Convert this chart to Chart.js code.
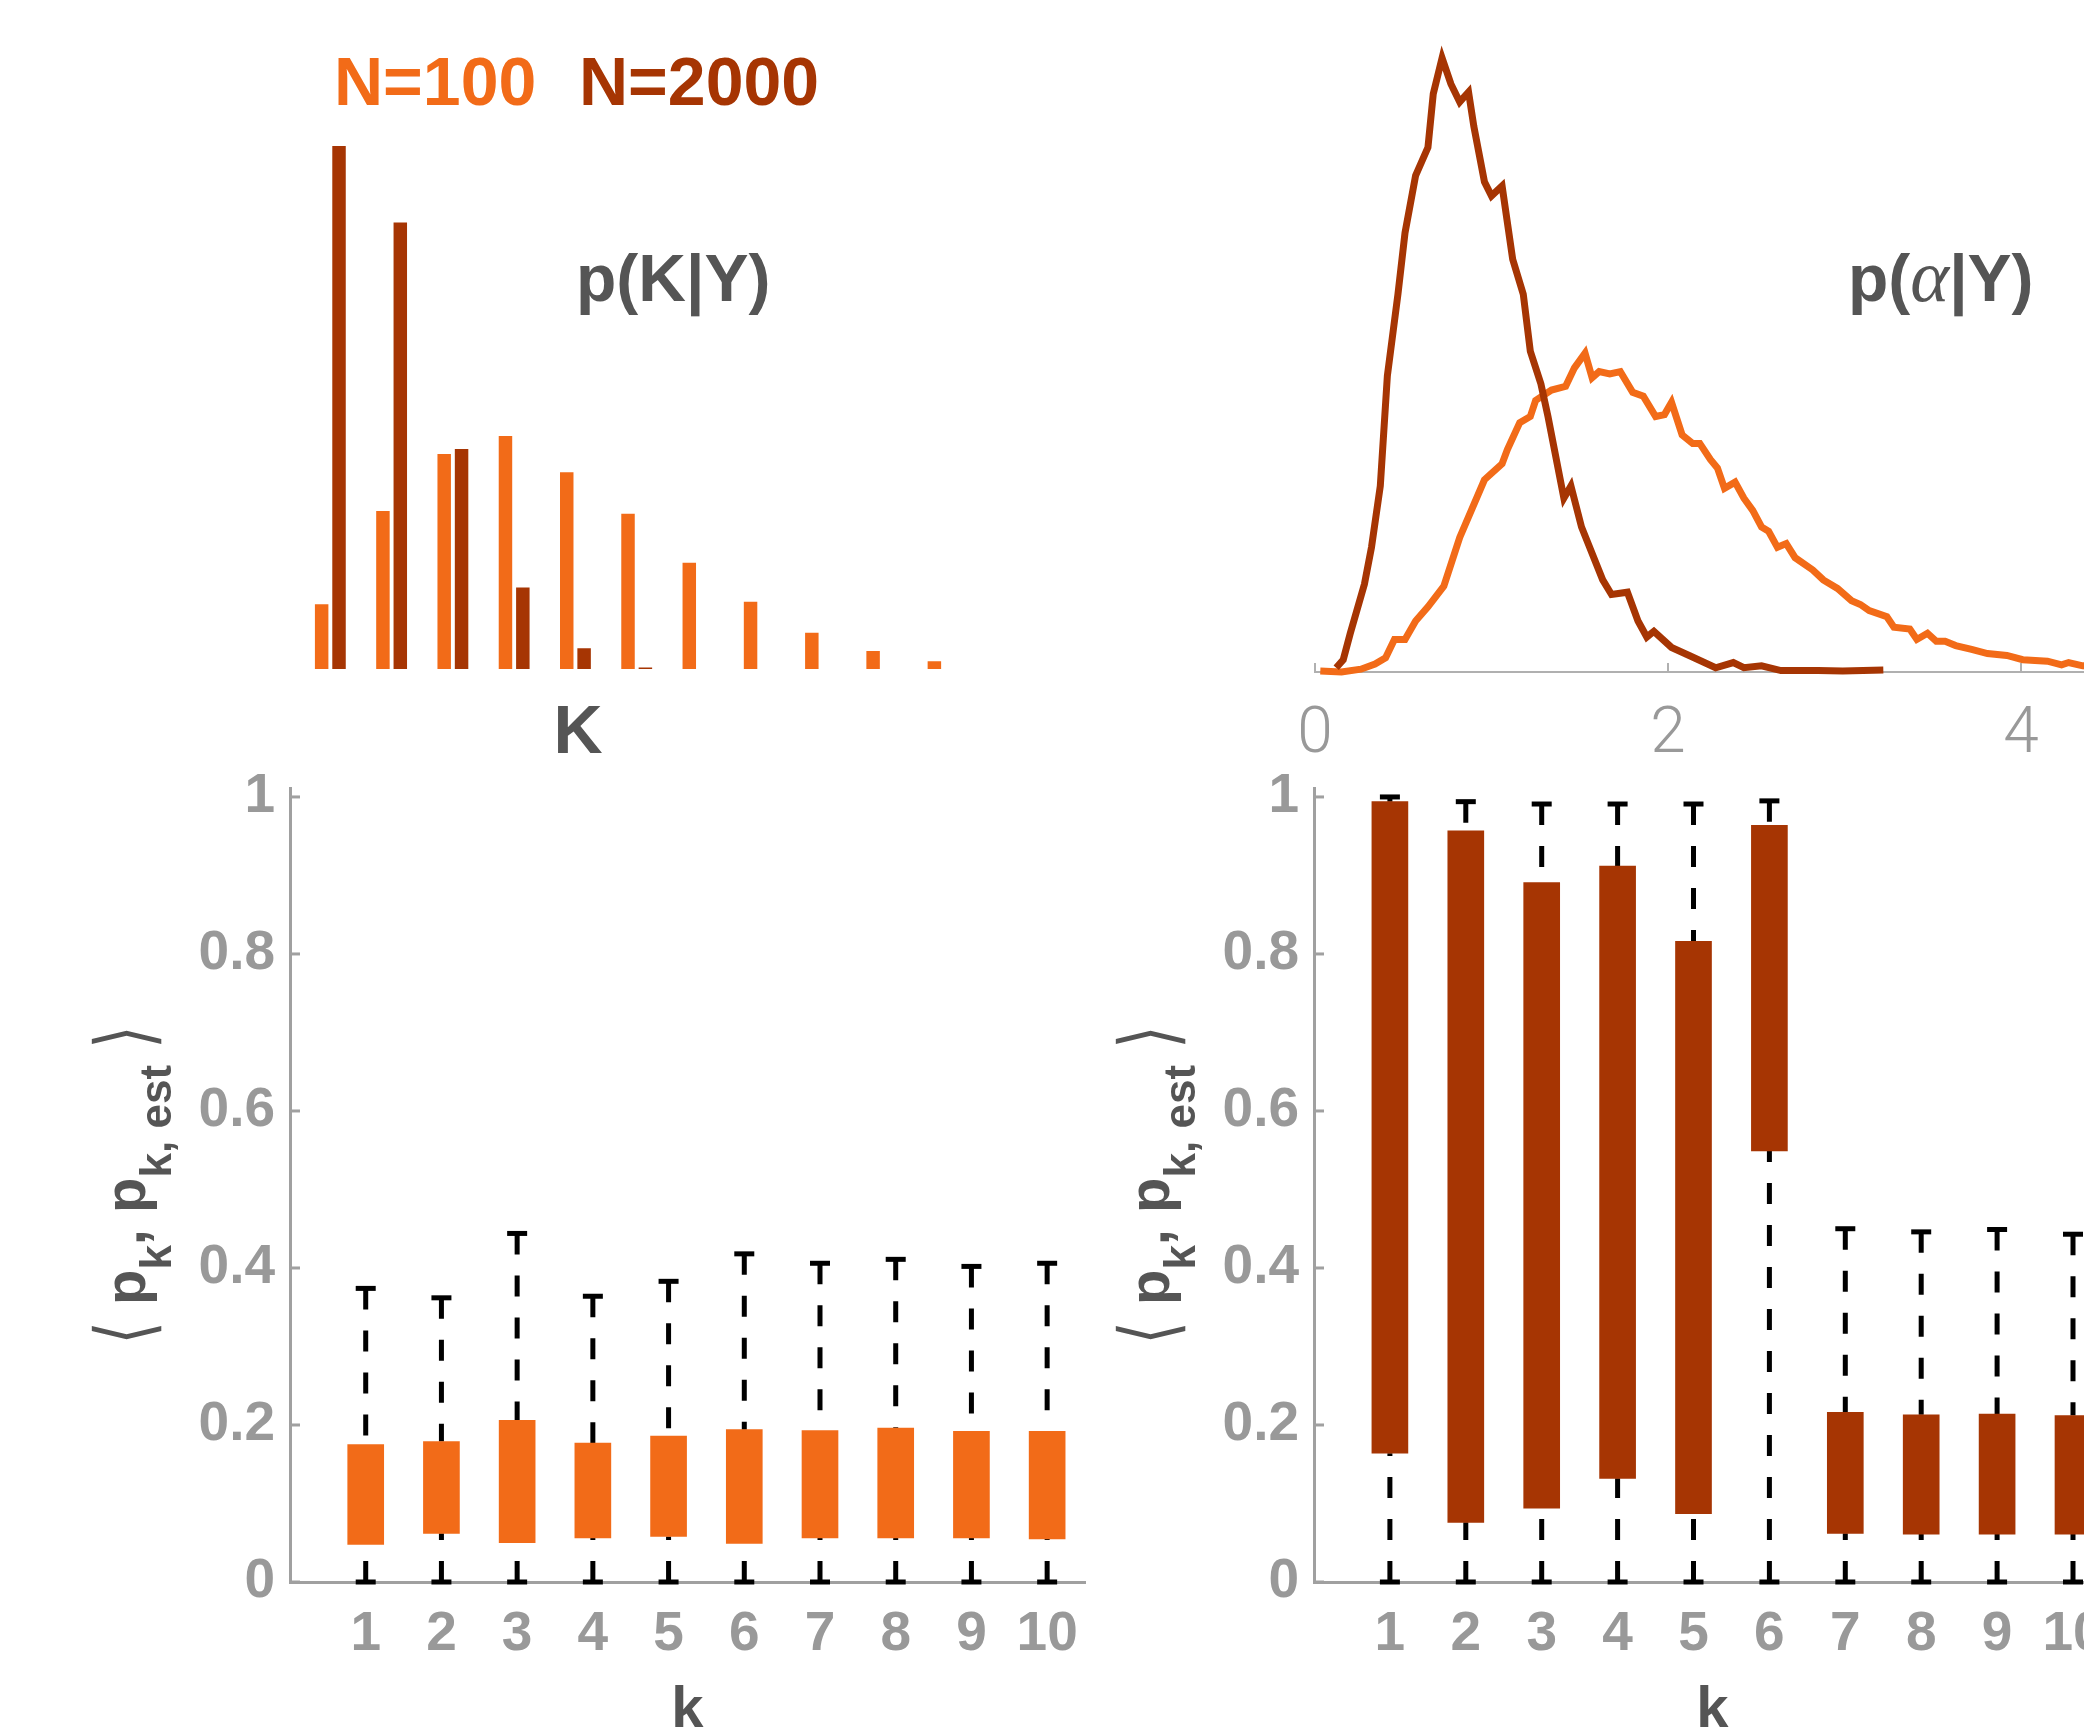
<!DOCTYPE html>
<html>
<head>
<meta charset="utf-8">
<script src="https://cdn.jsdelivr.net/npm/chart.js@4.4.1/dist/chart.umd.min.js"></script>
<style>
html,body{margin:0;padding:0;background:#fff;overflow:hidden;width:2084px;height:1729px;position:relative}
canvas{position:absolute}
</style>
</head>
<body>
<canvas id="c1" width="1040" height="780" style="left:0;top:0"></canvas>
<canvas id="c2" width="1100" height="790" style="left:1100px;top:0"></canvas>
<canvas id="c3" width="1100" height="989" style="left:0;top:740px"></canvas>
<canvas id="c4" width="1180" height="989" style="left:1020px;top:740px"></canvas>
<script>
// ---------------- DATA ----------------
// top-left: p(K|Y)
const K_CATEGORIES = ['1','2','3','4','5','6','7','8','9','10','11'];
const PK_N100  = [0.050,0.122,0.166,0.180,0.152,0.120,0.082,0.052,0.028,0.014,0.006];
const PK_N2000 = [0.404,0.345,0.170,0.063,0.016,0.0012,0,0,0,0,0];

// top-right: p(alpha|Y)
const ALPHA_X_N2000 = [0.12,0.16,0.20,0.28,0.32,0.37,0.41,0.47,0.51,0.57,0.64,0.67,0.72,0.77,0.82,0.87,0.90,0.96,1.00,1.06,1.12,1.18,1.22,1.28,1.32,1.41,1.45,1.51,1.63,1.68,1.77,1.83,1.88,1.92,2.02,2.12,2.27,2.37,2.43,2.53,2.64,2.85,2.99,3.22];
const ALPHA_Y_N2000 = [0.009,0.026,0.082,0.186,0.264,0.394,0.627,0.800,0.930,1.051,1.111,1.224,1.300,1.245,1.207,1.228,1.155,1.038,1.008,1.029,0.874,0.800,0.679,0.610,0.541,0.368,0.394,0.307,0.195,0.164,0.169,0.108,0.074,0.086,0.052,0.035,0.009,0.020,0.009,0.013,0.003,0.003,0.002,0.004];
const ALPHA_X_N100 = [0.03,0.15,0.26,0.34,0.40,0.45,0.51,0.57,0.64,0.73,0.82,0.89,0.96,1.06,1.09,1.16,1.22,1.25,1.34,1.42,1.47,1.53,1.57,1.61,1.67,1.73,1.80,1.86,1.93,1.98,2.02,2.08,2.14,2.18,2.24,2.28,2.32,2.38,2.43,2.48,2.53,2.57,2.62,2.67,2.72,2.82,2.88,2.96,3.04,3.09,3.14,3.24,3.28,3.37,3.41,3.47,3.52,3.57,3.63,3.72,3.81,3.92,4.01,4.15,4.23,4.27,4.35,4.45];
const ALPHA_Y_N100 = [0.002,0.000,0.006,0.017,0.030,0.069,0.069,0.108,0.138,0.182,0.285,0.346,0.407,0.441,0.471,0.528,0.541,0.575,0.597,0.605,0.644,0.675,0.623,0.636,0.631,0.636,0.592,0.584,0.541,0.545,0.571,0.502,0.484,0.484,0.450,0.432,0.389,0.402,0.368,0.342,0.307,0.298,0.264,0.272,0.242,0.216,0.195,0.177,0.151,0.143,0.130,0.117,0.095,0.091,0.069,0.082,0.065,0.065,0.056,0.048,0.039,0.035,0.026,0.023,0.015,0.020,0.013,0.011];
const ALPHA_TICKS = [0,2,4];

// bottom: box plots of <p_k, p_k,est>
const BOX_K = [1,2,3,4,5,6,7,8,9,10];
const N100_Q1  = [0.048,0.062,0.050,0.056,0.058,0.049,0.056,0.056,0.056,0.055];
const N100_Q3  = [0.175,0.179,0.206,0.177,0.186,0.194,0.193,0.196,0.192,0.192];
const N100_LO  = [0,0,0,0,0,0,0,0,0,0];
const N100_HI  = [0.374,0.362,0.444,0.364,0.383,0.418,0.406,0.411,0.402,0.406];
const N2000_Q1 = [0.164,0.076,0.094,0.132,0.087,0.549,0.062,0.061,0.061,0.061];
const N2000_Q3 = [0.994,0.957,0.891,0.912,0.816,0.964,0.216,0.213,0.214,0.212];
const N2000_LO = [0,0,0,0,0,0,0,0,0,0];
const N2000_HI = [1.000,0.994,0.991,0.991,0.991,0.995,0.450,0.446,0.449,0.443];
const P_TICKS = [0,0.2,0.4,0.6,0.8,1];

// ---------------- STYLE ----------------
const ORANGE = 'rgb(242,107,24)';
const DARK = 'rgb(166,53,3)';
const TXT = '#555555';
const TICKC = '#999999';
const AXC = '#a0a0a0';
const SANS = '"Liberation Sans", Arial, Helvetica, sans-serif';
Chart.defaults.font.family = SANS;
Chart.defaults.animation = false;

// run = [text, font, color, dy, yScale]
function drawRuns(ctx, runs, x, y) {
  let cx = x;
  for (const r of runs) {
    ctx.font = r[1]; ctx.fillStyle = r[2];
    if (r[4]) {
      ctx.save();
      ctx.translate(cx, y + (r[3] || 0));
      ctx.scale(1, r[4]);
      ctx.textBaseline = 'middle';
      ctx.fillText(r[0], 0, 0);
      ctx.restore();
    } else {
      ctx.fillText(r[0], cx, y + (r[3] || 0));
    }
    cx += ctx.measureText(r[0]).width;
  }
}
function runsWidth(ctx, runs) {
  let w = 0;
  for (const r of runs) { ctx.font = r[1]; w += ctx.measureText(r[0]).width; }
  return w;
}

// ---------------- TOP LEFT ----------------
new Chart(document.getElementById('c1'), {
  type: 'bar',
  data: {
    labels: K_CATEGORIES,
    datasets: [
      {label: 'N=100', data: PK_N100, backgroundColor: ORANGE, borderWidth: 0,
       categoryPercentage: 0.567, barPercentage: 0.776},
      {label: 'N=2000', data: PK_N2000, backgroundColor: DARK, borderWidth: 0,
       categoryPercentage: 0.567, barPercentage: 0.776}
    ]
  },
  options: {
    responsive: false, animation: false,
    layout: {padding: {left: 299.7, right: 66.3, top: 125.3, bottom: 111}},
    plugins: {legend: {display: false}, tooltip: {enabled: false}},
    scales: {
      x: {display: false},
      y: {display: false, min: 0, max: 0.42}
    }
  },
  plugins: [{
    id: 'txt1',
    afterDraw(chart) {
      const ctx = chart.ctx;
      ctx.save();
      ctx.textBaseline = 'alphabetic'; ctx.textAlign = 'left';
      ctx.font = 'bold 68px ' + SANS; ctx.fillStyle = ORANGE;
      ctx.fillText('N=100', 334, 105);
      ctx.fillStyle = DARK;
      ctx.fillText('N=2000', 579, 105);
      ctx.font = 'bold 66px ' + SANS; ctx.fillStyle = TXT;
      ctx.fillText('p(K|Y)', 576, 301);
      ctx.textAlign = 'center';
      ctx.font = 'bold 68px ' + SANS;
      ctx.fillText('K', 578, 753);
      ctx.restore();
    }
  }]
});

// ---------------- TOP RIGHT ----------------
new Chart(document.getElementById('c2'), {
  type: 'line',
  data: {
    datasets: [
      {label: 'N=2000', data: ALPHA_X_N2000.map((x, i) => ({x, y: ALPHA_Y_N2000[i]})),
       borderColor: DARK, borderWidth: 7, pointRadius: 0, tension: 0, fill: false, clip: false},
      {label: 'N=100', data: ALPHA_X_N100.map((x, i) => ({x, y: ALPHA_Y_N100[i]})),
       borderColor: ORANGE, borderWidth: 7, pointRadius: 0, tension: 0, fill: false, clip: false}
    ]
  },
  options: {
    responsive: false, animation: false,
    layout: {padding: {left: 215, right: 90.75, top: 34.4, bottom: 0}},
    plugins: {legend: {display: false}, tooltip: {enabled: false}},
    scales: {
      x: {type: 'linear', min: 0, max: 4.5,
          afterBuildTicks: s => { s.ticks = ALPHA_TICKS.map(v => ({value: v})); },
          afterFit: s => { s.height = 118; },
          grid: {drawOnChartArea: false, drawTicks: false},
          border: {display: true, color: '#b0b0b0', width: 2},
          ticks: {padding: 26, color: TICKC, font: {family: 'Roboto, "Open Sans", sans-serif', weight: '300', size: 64},
                  callback: v => String(v), maxRotation: 0}},
      y: {display: false, min: 0, max: 1.35}
    }
  },
  plugins: [{
    id: 'txt2',
    afterDraw(chart) {
      const ctx = chart.ctx;
      const xs = chart.scales.x;
      const y0 = chart.chartArea.bottom;
      ctx.save();
      ctx.strokeStyle = '#b0b0b0'; ctx.lineWidth = 2;
      for (const t of xs.ticks) {
        const px = xs.getPixelForValue(t.value);
        ctx.beginPath(); ctx.moveTo(px, y0); ctx.lineTo(px, y0 - 9); ctx.stroke();
      }
      ctx.textBaseline = 'alphabetic';
      const runs = [
        ['p(', 'bold 66px ' + SANS, TXT],
        ['\u03B1', 'italic 74px "Liberation Serif", "DejaVu Serif", serif', TXT],
        ['|Y)', 'bold 66px ' + SANS, TXT]
      ];
      drawRuns(ctx, runs, 1848 - 1100, 301);
      ctx.restore();
    }
  }]
});

// ---------------- BOTTOM (box plots) ----------------
function boxChart(id, color, q1, q3, lo, hi, yAxisW, padRight) {
  const whisk = [];
  BOX_K.forEach((k, i) => {
    whisk.push({x: k, y: hi[i]}, {x: k, y: q3[i]}, {x: k, y: null});
    whisk.push({x: k, y: lo[i]}, {x: k, y: q1[i]}, {x: k, y: null});
  });
  const caps = [];
  BOX_K.forEach((k, i) => { caps.push({x: k, y: hi[i]}, {x: k, y: lo[i]}); });
  return new Chart(document.getElementById(id), {
    type: 'bar',
    data: {
      datasets: [
        {type: 'bar', data: BOX_K.map((k, i) => ({x: k, y: [q1[i], q3[i]]})),
         backgroundColor: color, borderWidth: 0, barThickness: 36},
        {type: 'line', data: whisk, borderColor: '#000', borderWidth: 5, borderDash: [21, 21],
         pointRadius: 0, spanGaps: false, tension: 0, fill: false, clip: false},
        {type: 'line', data: caps, showLine: false, pointStyle: 'line', pointRadius: 10,
         pointBorderWidth: 5, pointBorderColor: '#000', pointBackgroundColor: '#000', clip: false}
      ]
    },
    options: {
      responsive: false, animation: false,
      layout: {padding: {left: 0, right: padRight, top: 44, bottom: 0}},
      plugins: {legend: {display: false}, tooltip: {enabled: false}},
      scales: {
        x: {type: 'linear', min: 0, max: 10.5, offset: false,
            afterBuildTicks: s => { s.ticks = BOX_K.map(v => ({value: v})); },
            afterFit: s => { s.height = 147; },
            grid: {drawOnChartArea: false, drawTicks: false, offset: false},
            border: {display: true, color: AXC, width: 3},
            ticks: {padding: 20, color: TICKC, font: {weight: 'bold', size: 55}, maxRotation: 0,
                    autoSkip: false, callback: v => String(v)}},
        y: {type: 'linear', min: 0, max: 1.0114,
            afterBuildTicks: s => { s.ticks = P_TICKS.map(v => ({value: v})); },
            afterFit: s => { s.width = yAxisW; },
            grid: {drawOnChartArea: false, drawTicks: false},
            border: {display: true, color: AXC, width: 3},
            ticks: {padding: 15, color: TICKC, font: {weight: 'bold', size: 55},
                    callback: v => String(v)}}
      }
    },
    plugins: [{
      id: 'deco_' + id,
      beforeDatasetsDraw(chart) {
        const ctx = chart.ctx, ys = chart.scales.y, ca = chart.chartArea;
        ctx.save();
        ctx.strokeStyle = AXC; ctx.lineWidth = 3;
        for (const t of ys.ticks) {
          const py = ys.getPixelForValue(t.value);
          ctx.beginPath(); ctx.moveTo(ca.left, py); ctx.lineTo(ca.left + 10, py); ctx.stroke();
        }
        ctx.restore();
      },
      afterDraw(chart) {
        const ctx = chart.ctx, ca = chart.chartArea;
        ctx.save();
        ctx.textBaseline = 'alphabetic'; ctx.textAlign = 'center';
        ctx.font = 'bold 58px ' + SANS; ctx.fillStyle = TXT;
        ctx.fillText('k', (ca.left + ca.right) / 2, 987);
        ctx.textAlign = 'left';
        const M = 'bold 58px ' + SANS, S = 'bold 44px ' + SANS;
        const B = '400 60px "DejaVu Sans", sans-serif';
        const runs = [
          ['\u27E8', B, TXT, -14, 1.3], [' ', M, TXT], ['p', M, TXT], ['k', S, TXT, 26], [', ', M, TXT],
          ['p', M, TXT], ['k, est', S, TXT, 26], [' ', M, TXT], ['\u27E9', B, TXT, -14, 1.3]
        ];
        ctx.translate(ca.left - 145, (ca.top + ca.bottom) / 2);
        ctx.rotate(-Math.PI / 2);
        const w = runsWidth(ctx, runs);
        drawRuns(ctx, runs, -w / 2, 0);
        ctx.restore();
      }
    }]
  });
}
boxChart('c3', ORANGE, N100_Q1, N100_Q3, N100_LO, N100_HI, 290, 14.1);
boxChart('c4', DARK, N2000_Q1, N2000_Q3, N2000_LO, N2000_HI, 294, 89.05);
</script>
</body>
</html>
